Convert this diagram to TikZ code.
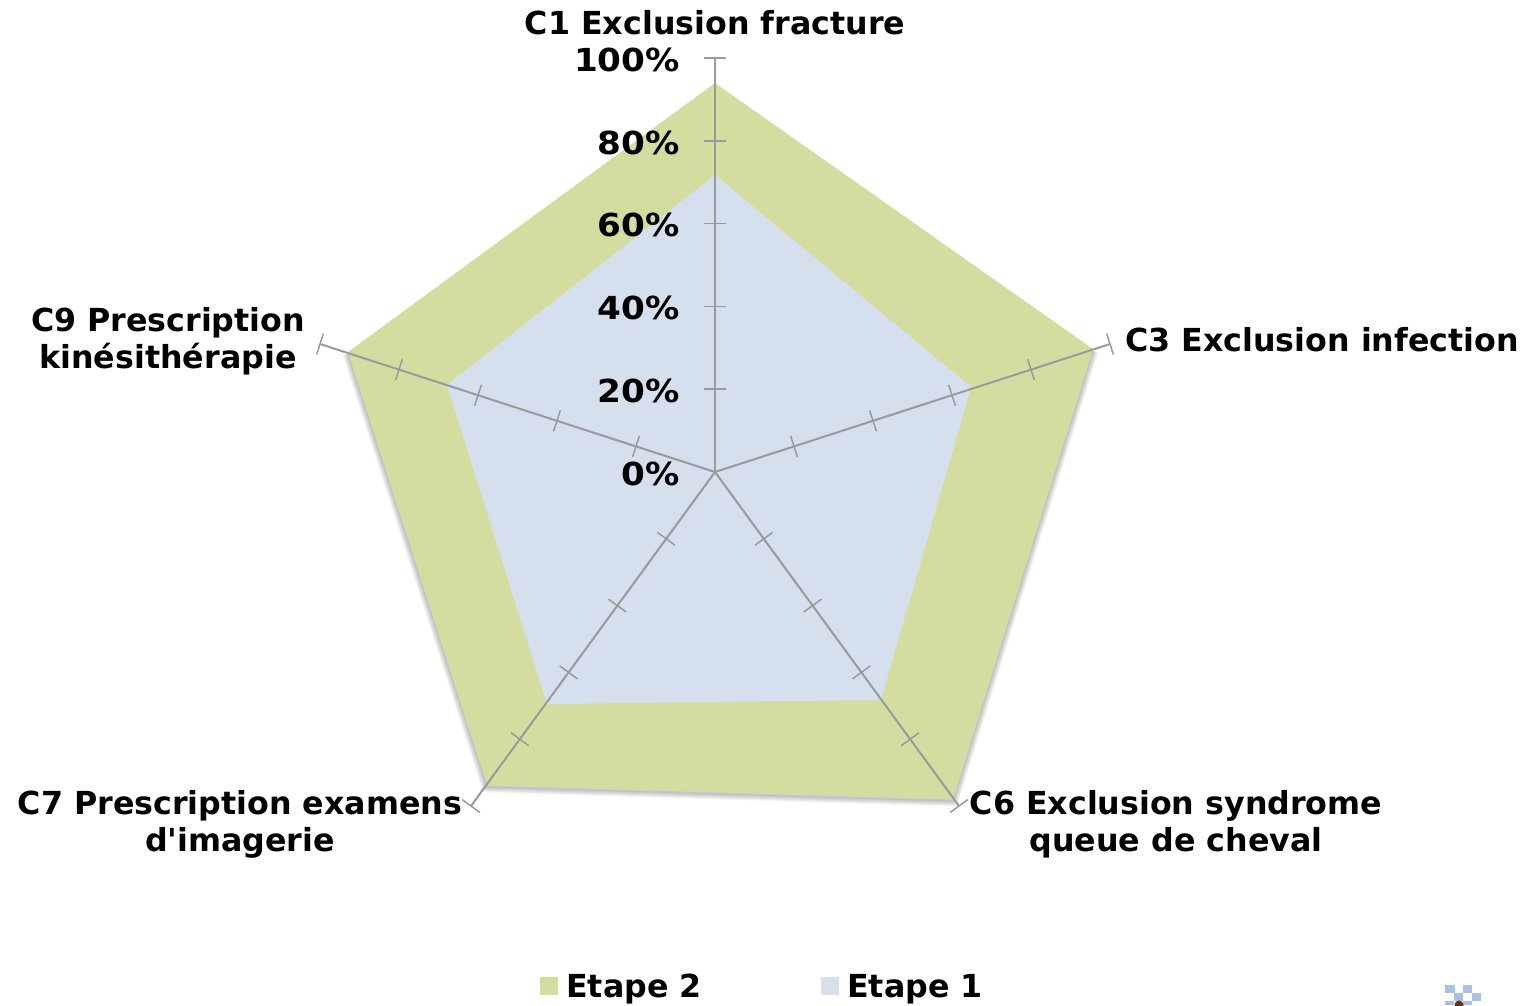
\documentclass[tikz,border=0pt]{standalone}
\usepackage{fontspec}
\setmainfont{DejaVu Sans}
\usetikzlibrary{calc}
\definecolor{greenfill}{HTML}{D4DD9F}
\definecolor{bluefill}{HTML}{D6DFEE}
\definecolor{axisgray}{HTML}{9A9A9A}
\definecolor{iconblue}{HTML}{A9C1E6}
\definecolor{iconred}{HTML}{7A2A18}
\tikzset{
  lab/.style={font=\fontsize{31.7}{37}\selectfont\bfseries, align=center, inner sep=0pt, text=black},
  axisline/.style={draw=axisgray, line width=2pt},
  tickline/.style={draw=axisgray, line width=1.5pt},
  legendbox/.style={minimum width=18pt, minimum height=18pt, inner sep=0pt, draw=none},
}
\newcommand{\pentagreen}{(715,83) -- (1093,349) -- (953,799) -- (487,785) -- (348,352) -- cycle}
\newcommand{\axisticks}[2]{%
  \foreach \f in {0.2,0.4,0.6,0.8,1.0} {
    \coordinate (tk) at ($(#1)!\f!(#2)$);
    \draw[tickline] ($(tk)!11pt!90:(#1)$) -- ($(tk)!11pt!-90:(#1)$);
  }%
}
\begin{document}
\begin{tikzpicture}[x=1pt,y=-1pt]
\useasboundingbox (0,0) rectangle (1529,1005);
\fill[white] (0,0) rectangle (1529,1005);
% soft shadow along the lower edges
\foreach \d in {11,9,7,5,3,1} {
  \draw[black,opacity=0.045,line width=\d pt,line join=round] (1093,351) -- (953,801) -- (487,787) -- (348,354);
}
% series
\fill[greenfill] \pentagreen;
\fill[bluefill] (715,175) -- (971,387) -- (881,700) -- (547,704) -- (447,385) -- cycle;
% axes
\coordinate (O) at (715,472);
\coordinate (A1) at (715,58);
\coordinate (A3) at (1110,344);
\coordinate (A6) at (959,806);
\coordinate (A7) at (471,806);
\coordinate (A9) at (320,344);
\foreach \e in {A1,A3,A6,A7,A9} {
  \draw[axisline] (O) -- (\e);
  \axisticks{O}{\e}
}
% scale labels
\foreach \n/\y/\t in {p100/60/100\%,p80/143/80\%,p60/225/60\%,p40/308/40\%,p20/391/20\%,p0/474/0\%} {
  \node[lab, anchor=east] (\n) at (680,\y) {\scalebox{1.08}[1]{\t}};
}
% category labels
\node[lab] (c1) at (715,23) {C1 Exclusion fracture};
\node[lab, anchor=west] (c3) at (1125,340) {C3 Exclusion infection};
\node[lab] (c6) at (1176,824) {C6 Exclusion syndrome\\queue de cheval};
\node[lab] (c7) at (240,824) {C7 Prescription examens\\d\textquotesingle imagerie};
\node[lab] (c9) at (168,341) {C9 Prescription\\kinésithérapie};
% legend
\node[legendbox, fill=greenfill] (lg2) at (549,986) {};
\node[lab, anchor=west] (lt2) at (566,989) {Etape 2};
\node[legendbox, fill=bluefill] (lg1) at (830,986) {};
\node[lab, anchor=west] (lt1) at (847,989) {Etape 1};
% icon
\fill[iconblue] (1445,985) rectangle (1455,993);
\fill[iconblue] (1463,985) rectangle (1472,993);
\fill[iconblue] (1454,993) rectangle (1463,1001);
\fill[iconblue] (1472,993) rectangle (1481,1001);
\fill[iconblue] (1445,1001) rectangle (1454,1005);
\fill[iconblue] (1463,1001) rectangle (1472,1005);
\fill[iconred] (1459,1005) circle (4.5pt);
\end{tikzpicture}
\end{document}
